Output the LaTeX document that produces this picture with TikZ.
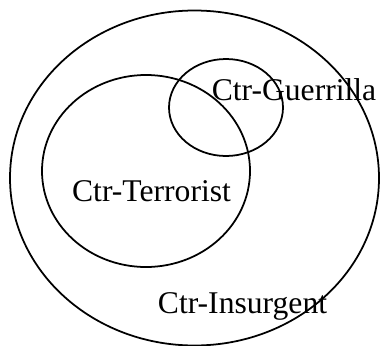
\documentclass[tikz,border=0pt]{standalone}
\usepackage{fontspec}
\setmainfont{Liberation Serif}

\begin{document}
\begin{tikzpicture}[x=0.02cm,y=-0.02cm,line width=1pt]

\useasboundingbox (0,0) rectangle (382,345);

\coordinate (I) at (194.5, 178);
\coordinate (T) at (146, 171);
\coordinate (G) at (226, 107.5);

\draw (I) ellipse [x radius=184.5, y radius=167.5];
\draw (T) ellipse [x radius=104, y radius=96];
\draw (G) ellipse [x radius=57, y radius=48.5];

\node[anchor=base, inner sep=0, font=\fontsize{18}{20}\selectfont] (guerrilla) at (294, 100) {Ctr-Guerrilla};
\node[anchor=base, inner sep=0, font=\fontsize{18}{20}\selectfont] (terrorist) at (151.5, 201.5) {Ctr-Terrorist};
\node[anchor=base, inner sep=0, font=\fontsize{18}{20}\selectfont] (insurgent) at (242.5, 313) {Ctr-Insurgent};

\end{tikzpicture}
\end{document}
